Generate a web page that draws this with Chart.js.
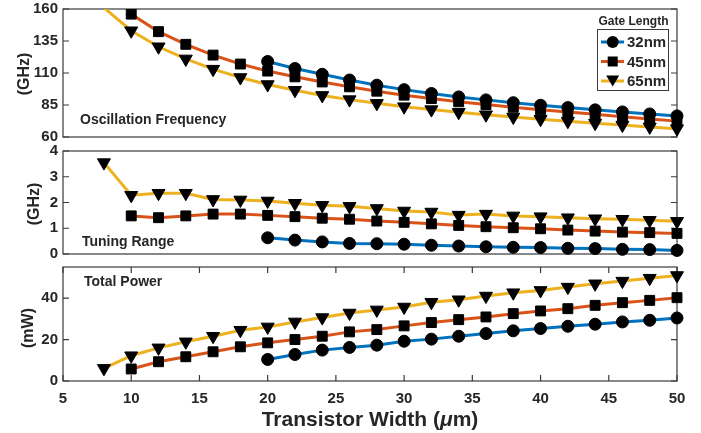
<!DOCTYPE html>
<html>
<head>
<meta charset="utf-8">
<script src="https://cdn.jsdelivr.net/npm/chart.js@4.4.1/dist/chart.umd.min.js"></script>
<style>
  body { margin: 0; background: #fff; }
  #wrap { position: relative; width: 701px; height: 433px; }
  canvas { position: absolute; left: 0; }
</style>
</head>
<body>
<div id="wrap">
  <canvas id="freq" width="701" height="150" style="top:0px"></canvas>
  <canvas id="tune" width="701" height="125" style="top:140px"></canvas>
  <canvas id="power" width="701" height="175" style="top:258px"></canvas>
</div>
<script>
// transistor widths (um) for each gate length
const W32 = [20, 22, 24, 26, 28, 30, 32, 34, 36, 38, 40, 42, 44, 46, 48, 50];
const W45 = [10, 12, 14, 16, 18, 20, 22, 24, 26, 28, 30, 32, 34, 36, 38, 40, 42, 44, 46, 48, 50];
const W65 = [8, 10, 12, 14, 16, 18, 20, 22, 24, 26, 28, 30, 32, 34, 36, 38, 40, 42, 44, 46, 48, 50];
const LABELS = ['32nm', '45nm', '65nm'];

// oscillation frequency (GHz)
const FREQ_32 = [119, 113.5, 109, 104.5, 100.5, 97, 94, 91.3, 89, 86.8, 84.8, 83, 81.2, 79.6, 78, 76.5];
const FREQ_45 = [156, 142.3, 132.4, 124, 117, 111.5, 107, 103, 99.2, 95.8, 92.7, 90, 87.5, 85.3, 83.2, 81.3, 79.5, 77.8, 75.9, 74.1, 72.4];
const FREQ_65 = [161, 143, 130.5, 121, 113, 106.5, 101, 96.5, 92.5, 89.2, 86.3, 83.7, 81.4, 79.3, 77.4, 75.6, 73.9, 72.3, 70.8, 69.3, 67.9, 66.5];

// tuning range (GHz)
const TUNE_32 = [0.63, 0.54, 0.47, 0.41, 0.40, 0.38, 0.34, 0.31, 0.28, 0.26, 0.25, 0.22, 0.21, 0.18, 0.17, 0.14];
const TUNE_45 = [1.48, 1.41, 1.48, 1.55, 1.55, 1.50, 1.45, 1.39, 1.35, 1.28, 1.23, 1.17, 1.11, 1.06, 1.02, 0.98, 0.93, 0.89, 0.85, 0.83, 0.80];
const TUNE_65 = [3.55, 2.28, 2.36, 2.36, 2.12, 2.10, 2.06, 1.97, 1.89, 1.85, 1.77, 1.67, 1.63, 1.51, 1.55, 1.48, 1.45, 1.41, 1.37, 1.35, 1.31, 1.27];

// total power (mW)
const POWER_32 = [10.4, 12.8, 14.9, 16.2, 17.3, 19.2, 20.2, 21.6, 22.9, 24.2, 25.3, 26.4, 27.4, 28.5, 29.3, 30.4];
const POWER_45 = [5.8, 9.3, 11.7, 14.1, 16.5, 18.4, 20.0, 21.6, 23.7, 24.8, 26.6, 28.2, 29.6, 30.9, 32.5, 33.8, 34.9, 36.5, 37.8, 38.9, 40.2];
const POWER_65 = [6.1, 12.2, 16.0, 18.9, 21.6, 24.5, 26.1, 28.5, 30.6, 32.8, 34.3, 35.7, 38.0, 39.2, 41.0, 42.6, 43.7, 45.3, 46.9, 48.2, 49.6, 50.9];

const FONT = '"Liberation Sans", Arial, sans-serif';
const INK = '#262626';
const BLUE = '#0072BD', RED = '#D95319', YELLOW = '#EDB120';

const pts = (xs, ys) => xs.map((x, i) => ({ x: x, y: ys[i] }));

function makeSets(v32, v45, v65, yMax) {
  // markers whose centre is above the axis are hidden, as in the original
  const rad = (r) => (c) => (c.raw && c.raw.y > yMax) ? 0 : r;
  const base = {
    borderWidth: 3, tension: 0,
    pointBackgroundColor: '#000', pointBorderColor: '#000', pointBorderWidth: 1,
    clip: { left: 12, top: 0, right: 12, bottom: 12 }
  };
  return [
    { ...base, label: LABELS[0], data: pts(W32, v32), borderColor: BLUE, pointStyle: 'circle', pointRadius: rad(6), order: 3 },
    { ...base, label: LABELS[1], data: pts(W45, v45), borderColor: RED, pointStyle: 'rect', pointRadius: rad(7), order: 2 },
    { ...base, label: LABELS[2], data: pts(W65, v65), borderColor: YELLOW, pointStyle: 'triangle', pointRotation: 180, pointRadius: rad(7.5), order: 1 }
  ];
}

// axes box with inward ticks, drawn under the data
const framePlugin = {
  id: 'frame',
  beforeDatasetsDraw(chart, args, opts) {
    const { ctx, chartArea: a, scales } = chart;
    ctx.save();
    ctx.strokeStyle = '#3a3a3a';
    ctx.lineWidth = 1.2;
    ctx.strokeRect(a.left, a.top, a.right - a.left, a.bottom - a.top);
    ctx.beginPath();
    scales.y.ticks.forEach(t => {
      const y = scales.y.getPixelForValue(t.value);
      ctx.moveTo(a.left, y); ctx.lineTo(a.left + 6, y);
      ctx.moveTo(a.right, y); ctx.lineTo(a.right - 6, y);
    });
    if (opts.xTicks) {
      scales.x.ticks.forEach(t => {
        const x = scales.x.getPixelForValue(t.value);
        ctx.moveTo(x, a.top); ctx.lineTo(x, a.top + 6);
        ctx.moveTo(x, a.bottom); ctx.lineTo(x, a.bottom - 6);
      });
    }
    ctx.stroke();
    ctx.restore();
  }
};

function drawMarker(ctx, style, x, y) {
  ctx.beginPath();
  if (style === 'circle') ctx.arc(x, y, 6, 0, Math.PI * 2);
  else if (style === 'rect') ctx.rect(x - 5, y - 5, 10, 10);
  else { ctx.moveTo(x - 6.5, y - 5.5); ctx.lineTo(x + 6.5, y - 5.5); ctx.lineTo(x, y + 5.5); ctx.closePath(); }
  ctx.fillStyle = '#000';
  ctx.fill();
}

// panel captions, y titles, legend and x title
const notesPlugin = {
  id: 'notes',
  afterDraw(chart, args, o) {
    const ctx = chart.ctx;
    const dy = o.offset || 0;
    ctx.save();
    ctx.fillStyle = INK;
    if (o.caption) {
      ctx.font = 'bold 14px ' + FONT;
      ctx.textAlign = 'left';
      ctx.textBaseline = 'alphabetic';
      ctx.fillText(o.caption.text, o.caption.x, o.caption.y - dy);
    }
    if (o.ytitle) {
      ctx.save();
      ctx.translate(o.ytitle.cx, o.ytitle.cy - dy);
      ctx.rotate(-Math.PI / 2);
      ctx.font = 'bold 16px ' + FONT;
      ctx.textAlign = 'center';
      ctx.textBaseline = 'middle';
      ctx.fillText(o.ytitle.text, 0, 0);
      ctx.restore();
    }
    if (o.legend) {
      ctx.font = 'bold 12px ' + FONT;
      ctx.textAlign = 'center';
      ctx.textBaseline = 'alphabetic';
      ctx.fillText('Gate Length', 633.5, 25);
      ctx.fillStyle = '#fff';
      ctx.fillRect(597.5, 29.5, 71, 61);
      ctx.strokeStyle = '#3a3a3a';
      ctx.lineWidth = 1;
      ctx.strokeRect(597.5, 29.5, 71, 61);
      const rows = [42, 61.5, 81];
      const cols = [BLUE, RED, YELLOW];
      const marks = ['circle', 'rect', 'triangle'];
      rows.forEach((y, i) => {
        ctx.strokeStyle = cols[i];
        ctx.lineWidth = 3;
        ctx.beginPath(); ctx.moveTo(601, y); ctx.lineTo(624, y); ctx.stroke();
        drawMarker(ctx, marks[i], 612.7, y);
        ctx.fillStyle = INK;
        ctx.font = 'bold 15px ' + FONT;
        ctx.textAlign = 'left';
        ctx.fillText(LABELS[i], 627, y + 5);
      });
    }
    if (o.xtitle) {
      const parts = [['Transistor Width (', 'bold 21px '], ['\u03bc', 'italic bold 21px '], ['m)', 'bold 21px ']];
      let total = 0;
      parts.forEach(p => { ctx.font = p[1] + FONT; total += ctx.measureText(p[0]).width; });
      let x = 370 - total / 2;
      ctx.textAlign = 'left';
      ctx.textBaseline = 'alphabetic';
      parts.forEach(p => {
        ctx.font = p[1] + FONT;
        ctx.fillText(p[0], x, 425.7 - dy);
        x += ctx.measureText(p[0]).width;
      });
    }
    ctx.restore();
  }
};

function makeOptions(cfg) {
  return {
    responsive: false,
    animation: false,
    layout: { padding: { top: cfg.padTop, bottom: cfg.padBottom, left: 0, right: 24 } },
    scales: {
      x: {
        type: 'linear', min: 5, max: 50,
        display: cfg.showX,
        afterFit: s => {
          s.height = cfg.showX ? 52 : 0;
          s.paddingLeft = 0; s.paddingRight = 0;
        },
        grid: { display: false, drawTicks: false },
        border: { display: false },
        ticks: { stepSize: 5, padding: 9, color: INK, font: { family: FONT, size: 15, weight: 'bold' } }
      },
      y: {
        min: cfg.yMin, max: cfg.yMax,
        afterFit: s => {
          s.width = 63;
          s.paddingTop = 0; s.paddingBottom = 0;
        },
        afterBuildTicks: s => { s.ticks = s.ticks.filter(t => (t.value - cfg.yMin) % cfg.yStep === 0); },
        grid: { display: false, drawTicks: false },
        border: { display: false },
        ticks: { stepSize: cfg.yStep, autoSkip: false, padding: 5, color: INK, font: { family: FONT, size: 15, weight: 'bold' } }
      }
    },
    plugins: {
      legend: { display: false },
      tooltip: { enabled: false },
      frame: { xTicks: cfg.showX },
      notes: cfg.notes
    }
  };
}

new Chart(document.getElementById('freq'), {
  type: 'line',
  data: { datasets: makeSets(FREQ_32, FREQ_45, FREQ_65, 160) },
  options: makeOptions({
    yMin: 60, yMax: 160, yStep: 25, padTop: 9, padBottom: 13, showX: false,
    notes: { offset: 0, caption: { text: 'Oscillation Frequency', x: 80, y: 124 }, ytitle: { text: '(GHz)', cx: 25, cy: 74 }, legend: true }
  }),
  plugins: [framePlugin, notesPlugin]
});

new Chart(document.getElementById('tune'), {
  type: 'line',
  data: { datasets: makeSets(TUNE_32, TUNE_45, TUNE_65, 4) },
  options: makeOptions({
    yMin: 0, yMax: 4, yStep: 1, padTop: 11, padBottom: 11, showX: false,
    notes: { offset: 140, caption: { text: 'Tuning Range', x: 82, y: 246 }, ytitle: { text: '(GHz)', cx: 35, cy: 204 } }
  }),
  plugins: [framePlugin, notesPlugin]
});

new Chart(document.getElementById('power'), {
  type: 'line',
  data: { datasets: makeSets(POWER_32, POWER_45, POWER_65, 55) },
  options: makeOptions({
    yMin: 0, yMax: 55, yStep: 20, padTop: 9, padBottom: 0, showX: true,
    notes: { offset: 258, caption: { text: 'Total Power', x: 84, y: 286 }, ytitle: { text: '(mW)', cx: 29, cy: 328 }, xtitle: true }
  }),
  plugins: [framePlugin, notesPlugin]
});
</script>
</body>
</html>
